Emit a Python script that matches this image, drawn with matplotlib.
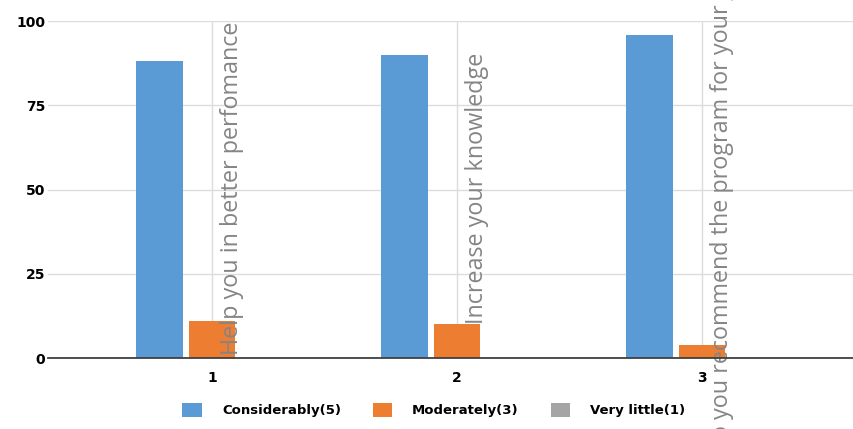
import numpy as np
import matplotlib.pyplot as plt

# survey data (percent)
cats = ['1', '2', '3']
considerably = [88, 90, 96]
moderately = [11, 10, 4]
very_little = [0, 0, 0]
questions = ['Help you in better perfomance',
             'Increase your knowledge',
             'Do you recommend the program for your job']
q_base = [1, 10, 44]   # where each rotated label sits

series = [considerably, moderately, very_little]
names = ['Considerably(5)', 'Moderately(3)', 'Very little(1)']
colors = ['#5B9BD5', '#ED7D31', '#A5A5A5']

fig = plt.figure(figsize=(8.54, 4.29), dpi=100)
ax = fig.add_axes([0.0562, 0.1655, 0.9438, 0.7855])

x = np.arange(len(cats))
w = 0.19
step = 0.214
for k in range(3):
    ax.bar(x + (k - 1) * step, series[k], width=w, color=colors[k],
           label=names[k], zorder=3)

# rotated question labels (the third one runs off the figure, as in the source)
for i, q in enumerate(questions):
    va = 'center' if i == 2 else 'bottom'
    ax.text(x[i] + 0.083, q_base[i], q, rotation=90, ha='center', va=va,
            fontsize=16.8, color='#858585', family='Open Sans', zorder=4,
            clip_on=False)

ax.set_xlim(-0.669, 2.62)
ax.set_ylim(0, 100)
ax.set_yticks([0, 25, 50, 75, 100])
ax.set_xticks(x)
ax.set_xticklabels(cats)
ax.grid(axis='both', color='#dcdcdc', lw=1, zorder=0)
for s in ['top', 'right', 'left']:
    ax.spines[s].set_visible(False)
ax.spines['bottom'].set_color('#404040')
ax.spines['bottom'].set_linewidth(1.3)
ax.spines['bottom'].set_zorder(5)
ax.tick_params(length=0, labelsize=10, pad=9)
ax.tick_params(axis='y', pad=2)
for t in ax.get_xticklabels() + ax.get_yticklabels():
    t.set_fontweight('bold')

leg = fig.legend(loc='lower center', bbox_to_anchor=(0.508, 0.0), ncol=3,
                 frameon=False, handlelength=1.5, handleheight=1.3,
                 handletextpad=1.5, columnspacing=2.4,
                 prop={'size': 9.5, 'weight': 'bold'})

plt.savefig('out.png', dpi=100)
